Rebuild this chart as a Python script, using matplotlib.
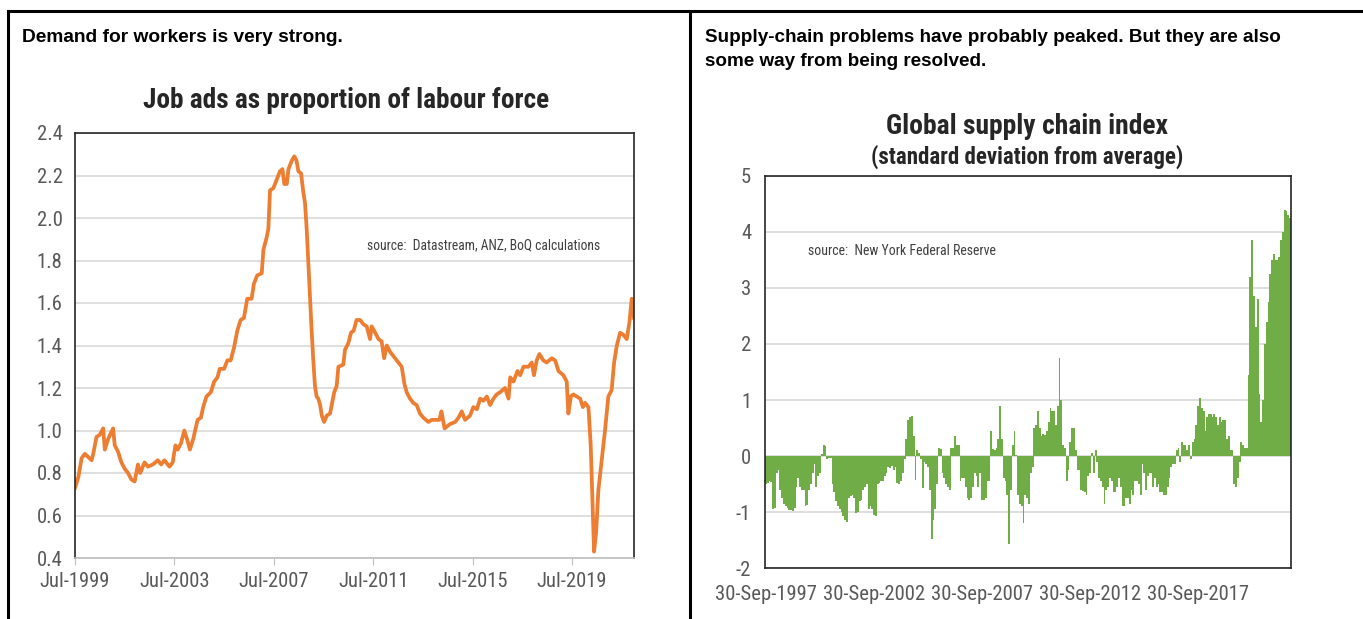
import matplotlib.pyplot as plt
import matplotlib.font_manager as fm
from matplotlib.lines import Line2D
import numpy as np
import pandas as pd

# job ads / labour force (%), x = months since Jul-1999
ads_month = [0, 1.6, 3.2, 4.8, 6.9, 8, 8.8, 10.4, 12, 13.6, 14.4, 16, 18.4, 19.2, 20.8,
             22.4, 24, 25.6, 27.2, 28.8, 30.4, 31.5, 33.6, 35.2, 37.6, 40, 41.6, 43.2,
             45.6, 47.2, 48.5, 49.6, 51.2, 52.8, 54.4, 55.5, 57.1, 59.2, 60.8, 61.9,
             63.5, 65.6, 67.2, 68.8, 69.9, 72, 73.6, 75.2, 76.8, 78.4, 80, 81.6, 83.2,
             85.3, 86.4, 88, 90.2, 91, 92.6, 93.4, 94.2, 95.8, 97.4, 99, 100.2, 101.1,
             102.3, 103.1, 104.7, 105.9, 107, 107.9, 109.2, 110.3, 111.1, 111.9, 112.7,
             113.5, 114.3, 115.1, 115.9, 116.7, 117.5, 118.4, 119.2, 120.3, 121.6,
             123.2, 125.2, 126.4, 127.2, 129.6, 130.4, 132, 133.3, 134.6, 136, 137.7,
             139.3, 140.9, 142.5, 143.3, 145, 146.6, 148.1, 149.3, 150.6, 152.2, 153.8,
             155.4, 157.8, 159.1, 160.2, 161.8, 163.4, 165, 166.6, 168.3, 170.7, 172.3,
             174.7, 176, 177, 178.5, 181.1, 183.6, 185.2, 186.8, 188.4, 190.8, 192.4,
             194.1, 195.7, 197.3, 198.9, 200.5, 202.1, 203.7, 205.3, 207.7, 209.4,
             210.2, 211.8, 213.7, 215, 216.6, 219, 220.6, 221.7, 223, 224.3, 226.2,
             227.8, 230.3, 231.9, 233.5, 235.9, 237.5, 238.3, 239.5, 240.7, 242.3, 244,
             245.3, 246.4, 248, 249.1, 250.1, 250.7, 251.7, 252.8, 254.4, 256, 257.6,
             259.2, 260.4, 261.7, 263.3, 264.9, 266.5, 267.8, 268.9, 270]
ads_value = [0.73, 0.78, 0.87, 0.89, 0.87, 0.86, 0.89, 0.97, 0.98, 1.01, 0.91, 0.96, 1.01,
             0.93, 0.90, 0.85, 0.82, 0.80, 0.77, 0.76, 0.84, 0.80, 0.85, 0.83, 0.84, 0.86,
             0.84, 0.86, 0.83, 0.85, 0.93, 0.91, 0.94, 1.00, 0.95, 0.91, 0.96, 1.05, 1.06,
             1.11, 1.16, 1.18, 1.23, 1.25, 1.29, 1.29, 1.33, 1.33, 1.39, 1.47, 1.52, 1.53,
             1.62, 1.62, 1.69, 1.73, 1.74, 1.85, 1.91, 1.95, 2.13, 2.14, 2.18, 2.22, 2.23,
             2.16, 2.16, 2.23, 2.27, 2.29, 2.27, 2.22, 2.21, 2.12, 2.07, 1.95, 1.79, 1.63,
             1.47, 1.33, 1.21, 1.16, 1.15, 1.12, 1.07, 1.04, 1.07, 1.08, 1.18, 1.21, 1.30,
             1.31, 1.38, 1.41, 1.46, 1.47, 1.52, 1.52, 1.50, 1.49, 1.43, 1.49, 1.46, 1.43,
             1.42, 1.34, 1.40, 1.37, 1.35, 1.33, 1.30, 1.22, 1.18, 1.15, 1.13, 1.12, 1.08,
             1.06, 1.04, 1.05, 1.05, 1.05, 1.09, 1.01, 1.03, 1.04, 1.06, 1.09, 1.05, 1.07,
             1.11, 1.10, 1.15, 1.14, 1.16, 1.12, 1.15, 1.17, 1.18, 1.20, 1.15, 1.25, 1.23,
             1.28, 1.26, 1.30, 1.30, 1.32, 1.26, 1.33, 1.36, 1.33, 1.32, 1.34, 1.33, 1.28,
             1.26, 1.23, 1.08, 1.16, 1.17, 1.16, 1.15, 1.11, 1.13, 1.11, 0.93, 0.61, 0.43,
             0.52, 0.72, 0.86, 1.00, 1.16, 1.19, 1.32, 1.40, 1.46, 1.45, 1.43, 1.51, 1.62,
             1.53]
ads_ticks = ['Jul-1999', 'Jul-2003', 'Jul-2007', 'Jul-2011', 'Jul-2015', 'Jul-2019']

# global supply chain pressure index, monthly from Sep-1997 to Dec-2021
gscpi = [-0.50, -0.48, -0.45, -0.47, -0.95, -0.92, -0.30, -0.25, -0.60, -0.75, -0.85, -0.90,
         -0.92, -0.96, -0.97, -0.98, -0.93, -0.55, -0.40, -0.55, -0.60, -0.60, -0.90, -0.88,
         -0.60, -0.50, -0.30, -0.15, -0.55, -0.35, -0.30, 0.03, 0.20, 0.18, -0.05, -0.03,
         -0.04, -0.50, -0.65, -0.80, -0.90, -0.95, -1.00, -1.08, -1.15, -1.17, -0.75, -0.72,
         -0.70, -0.75, -1.02, -1.00, -0.80, -0.78, -0.60, -0.55, -0.50, -0.95, -0.90, -0.95,
         -1.05, -1.08, -0.50, -0.48, -0.45, -0.45, -0.35, -0.30, -0.20, -0.22, -0.18, -0.25,
         -0.20, -0.48, -0.50, -0.45, -0.30, -0.05, 0.30, 0.65, 0.70, 0.72, 0.35, -0.43,
         0.10, 0.05, -0.05, -0.58, -0.10, -0.15, -0.20, -0.60, -1.48, -1.15, -0.95, -0.50,
         0.15, 0.12, -0.30, -0.40, -0.50, -0.55, -0.60, 0.15, 0.15, 0.35, 0.20, 0.20,
         -0.45, -0.40, -0.40, -0.55, -0.75, -0.78, -0.75, -0.55, -0.30, -0.35, -0.55, -0.30,
         -0.78, -0.78, -0.75, -0.45, -0.45, 0.45, 0.12, 0.10, 0.15, 0.30, 0.90, 0.30,
         -0.40, -0.45, -0.70, -1.58, -0.60, 0.20, 0.45, 0.02, -0.70, -0.85, -0.90, -1.20,
         -0.70, -0.75, -0.85, -0.30, -0.20, 0.50, 0.55, 0.80, 0.50, 0.35, 0.40, 0.38,
         0.45, 0.60, 0.85, 0.80, 0.80, 0.55, 0.90, 1.75, 1.00, 0.20, 0.15, -0.45,
         -0.25, 0.25, 0.50, 0.50, 0.10, -0.25, -0.25, -0.60, -0.62, -0.65, -0.70, -0.35,
         -0.30, 0.05, -0.30, 0.10, -0.10, -0.40, -0.45, -0.55, -0.85, -0.60, -0.55, -0.40,
         -0.45, -0.65, -0.65, -0.55, -0.40, -0.55, -0.90, -0.90, -0.75, -0.75, -0.85, -0.60,
         -0.70, -0.45, -0.45, -0.50, -0.70, -0.15, -0.30, -0.60, -0.35, -0.30, -0.30, -0.55,
         -0.40, -0.55, -0.50, -0.65, -0.65, -0.70, -0.70, -0.55, -0.40, -0.20, -0.15, -0.15,
         0.10, 0.15, -0.10, 0.25, 0.20, 0.20, 0.10, 0.20, -0.05, 0.25, 0.30, 0.55,
         0.90, 1.03, 0.85, 0.80, 0.45, 0.70, 0.75, 0.75, 0.70, 0.75, 0.70, 0.55,
         0.70, 0.60, 0.65, 0.65, 0.30, 0.35, 0.10, 0.10, -0.50, -0.55, -0.40, -0.10,
         0.25, 0.20, 0.15, 0.15, 1.45, 3.20, 3.85, 2.85, 2.30, 2.80, 1.10, 0.60,
         1.00, 2.00, 2.40, 2.75, 3.25, 3.50, 3.60, 3.50, 3.50, 3.55, 3.85, 4.00,
         4.40, 4.38, 4.30, 4.25]
gscpi_ticks = ['1997-09-30', '2002-09-30', '2007-09-30', '2012-09-30', '2017-09-30']

# use a narrow face if one happens to be installed, otherwise shrink the regular one
names = {f.name for f in fm.fontManager.ttflist}
NARROW, SHRINK = 'Liberation Sans', 1.0
for cand in ['Liberation Sans Narrow', 'Arial Narrow', 'Roboto Condensed']:
    if cand in names:
        NARROW, SHRINK = cand, 1.2
        break
plt.rcParams['font.family'] = ['Liberation Sans', 'DejaVu Sans']
plt.rcParams['axes.unicode_minus'] = False

W, H = 1363, 619
TICK_GREY = '#595959'
TICK_SIZE = 12.4 * SHRINK
fig = plt.figure(figsize=(W / 100, H / 100), dpi=100)


def fx(x):
    return x / W


def fy(y):
    return 1 - y / H


# table frame around the two panels
for line in [[(8, 8), (11, H)], [(690, 690), (11, H)], [(8, W), (11, 11)]]:
    fig.add_artist(Line2D([fx(v) for v in line[0]], [fy(v) for v in line[1]],
                          color='black', lw=2.2))

fig.text(fx(22), fy(38), 'Demand for workers is very strong.', fontsize=13.8,
         fontweight='bold', va='center')
fig.text(fx(705), fy(38), 'Supply-chain problems have probably peaked. But they are also',
         fontsize=13.6, fontweight='bold', va='center')
fig.text(fx(705), fy(62), 'some way from being resolved.', fontsize=13.6, fontweight='bold',
         va='center')

# ---- left: job ads
ax1 = fig.add_axes([fx(75), fy(558), (634 - 75) / W, (558 - 133) / H])
ax1.plot(ads_month, ads_value, color='#ED7D31', lw=2.7, solid_joinstyle='round')
ax1.set_xlim(0, 270)
ax1.set_ylim(0.4, 2.4)
ax1.set_yticks(np.arange(0.4, 2.41, 0.2))
ax1.set_yticklabels(['%.1f' % v for v in np.arange(0.4, 2.41, 0.2)])
ax1.set_xticks(np.arange(0, 241, 48))
ax1.set_xticklabels(ads_ticks)
ax1.grid(axis='y', color='#D9D9D9', lw=1.2)
ax1.set_axisbelow(True)
for s in ['left', 'top', 'right']:
    ax1.spines[s].set_color('#262626')
    ax1.spines[s].set_linewidth(1.2)
ax1.spines['bottom'].set_color('#BFBFBF')
ax1.spines['bottom'].set_linewidth(1.2)
ax1.tick_params(axis='y', length=0, pad=9)
ax1.tick_params(axis='x', length=5, color='#BFBFBF', pad=5)
for lab in ax1.get_xticklabels() + ax1.get_yticklabels():
    lab.set_family([NARROW, 'DejaVu Sans'])
    lab.set_fontsize(TICK_SIZE)
    lab.set_color(TICK_GREY)
ax1.text(0.522, 0.736, 'source:  Datastream, ANZ, BoQ calculations', transform=ax1.transAxes,
         fontsize=8.2 * SHRINK, family=[NARROW, 'DejaVu Sans'], color='#404040', va='center')
fig.text(fx(346), fy(101), 'Job ads as proportion of labour force', ha='center', va='center',
         fontsize=16.4 * SHRINK, fontweight='bold', family=[NARROW, 'DejaVu Sans'],
         color='#262626')

# ---- right: supply chain index
dates = pd.date_range('1997-09-30', periods=len(gscpi), freq='ME')
ax2 = fig.add_axes([fx(765), fy(568), (1291 - 765) / W, (568 - 176) / H])
ax2.bar(dates, gscpi, width=32, color='#70AD47', linewidth=0)
ax2.set_xlim(pd.Timestamp('1997-09-14'), pd.Timestamp('2022-01-15'))
ax2.set_ylim(-2, 5)
ax2.set_yticks(range(-2, 6))
tick_dates = pd.to_datetime(gscpi_ticks)
ax2.set_xticks(tick_dates)
ax2.set_xticklabels([d.strftime('%d-%b-%Y') for d in tick_dates])
ax2.grid(axis='y', color='#D9D9D9', lw=1.2)
ax2.set_axisbelow(True)
for s in ax2.spines.values():
    s.set_color('#262626')
    s.set_linewidth(1.2)
ax2.tick_params(axis='y', length=0, pad=10)
ax2.tick_params(axis='x', length=0, pad=12)
for lab in ax2.get_xticklabels() + ax2.get_yticklabels():
    lab.set_family([NARROW, 'DejaVu Sans'])
    lab.set_fontsize(TICK_SIZE)
    lab.set_color(TICK_GREY)
ax2.text(0.082, 0.809, 'source:  New York Federal Reserve', transform=ax2.transAxes,
         fontsize=8.3 * SHRINK, family=[NARROW, 'DejaVu Sans'], color='#404040', va='center')
fig.text(fx(1027), fy(127), 'Global supply chain index', ha='center', va='center',
         fontsize=16.6 * SHRINK, fontweight='bold', family=[NARROW, 'DejaVu Sans'],
         color='#262626')
fig.text(fx(1027), fy(157), '(standard deviation from average)', ha='center', va='center',
         fontsize=13.7 * SHRINK, fontweight='bold', family=[NARROW, 'DejaVu Sans'],
         color='#262626')

fig.savefig('out.png', dpi=100)
